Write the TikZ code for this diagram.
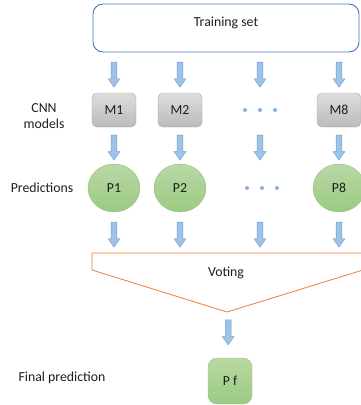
\documentclass[tikz,border=0pt]{standalone}
\usepackage{fontspec}
\setmainfont{Carlito}
\usetikzlibrary{shapes.arrows,shapes.geometric}
\definecolor{arrowfill}{HTML}{9DC3E6}
\definecolor{arrowline}{HTML}{6A9FD6}
\definecolor{trainline}{HTML}{4472C4}
\definecolor{voteline}{HTML}{ED7D31}
\definecolor{greentop}{HTML}{B9D8A5}
\definecolor{greenbot}{HTML}{9BCA82}
\definecolor{greenline}{HTML}{94C27E}
\definecolor{graytop}{HTML}{DDDDDD}
\definecolor{graybot}{HTML}{BBBBBB}
\definecolor{grayline}{HTML}{A8A8A8}
\definecolor{txt}{HTML}{1E1E1E}

\begin{document}
\begin{tikzpicture}[x=1pt,y=-1pt,font=\fontsize{13.8}{16}\selectfont,text=txt,
		blk/.style={single arrow,draw=arrowline,fill=arrowfill,line width=0.4pt,inner sep=2.7pt,
			minimum height=25pt,single arrow head extend=3pt,single arrow tip angle=70,shape border rotate=270},
		model/.style={draw=grayline,top color=graytop,bottom color=graybot,rounded corners=5pt,
			minimum width=44pt,minimum height=34pt},
		pred/.style={ellipse,draw=greenline,top color=greentop,bottom color=greenbot,
			minimum width=52pt,minimum height=48pt,inner sep=0pt},
		side/.style={align=center}]
	\useasboundingbox (0,0) rectangle (361,405);
	% training set and models
	\node[draw=trainline,line width=0.9pt,rounded corners=10pt,minimum width=266pt,minimum height=48pt,
		label={[yshift=5pt]center:Training set}] (train) at (226,28) {};
	\node[model] (m1) at (114,110) {M1};
	\node[model] (m2) at (180,110) {M2};
	\node[minimum width=44pt,minimum height=34pt] (mdots) at (260,110) {};
	\node[model] (m8) at (339,110) {M8};
	\node[side] (lm) at (44,116) {CNN\\models};
	% predictions
	\node[pred] (p1) at (114,188) {P1};
	\node[pred] (p2) at (180,188) {P2};
	\node[minimum width=52pt,minimum height=48pt] (pdots) at (260,188) {};
	\node[pred] (p8) at (339,188) {P8};
	\node[side] (lp) at (42,188) {Predictions};
	\foreach \x in {245,260,275} {
		\fill[arrowline!80] (\x,110) circle (2);
		\fill[arrowline!80] (\x+2,188) circle (2);
	}
	% voting
	\coordinate (vtop) at (226,253);
	\coordinate (vtip) at (227,312);
	\draw[voteline,line width=0.8pt] (92,270) -- (92,253) -- (363,253) -- (363,270) -- (vtip) -- cycle;
	\node (vote) at (226,273) {Voting};
	% final
	\node[draw=greenline,top color=greentop,bottom color=greenbot,rounded corners=9pt,
		minimum width=44pt,minimum height=46pt] (pf) at (230,381) {P f};
	\node[side] (lf) at (62,378) {Final prediction};
	% arrows
	\foreach \c in {m1,m2,mdots,m8}
		\path (train.south -| \c) -- (\c.north) node[midway,blk] {};
	\foreach \a/\b in {m1/p1,m2/p2,mdots/pdots,m8/p8}
		\path (\a.south) -- (\b.north) node[midway,blk] {};
	\foreach \b in {p1,p2,pdots,p8}
		\path (\b.south) -- (\b |- vtop) node[midway,blk] {};
	\path (vtip) -- (pf.north) node[pos=0.4,blk] {};
\end{tikzpicture}
\end{document}
